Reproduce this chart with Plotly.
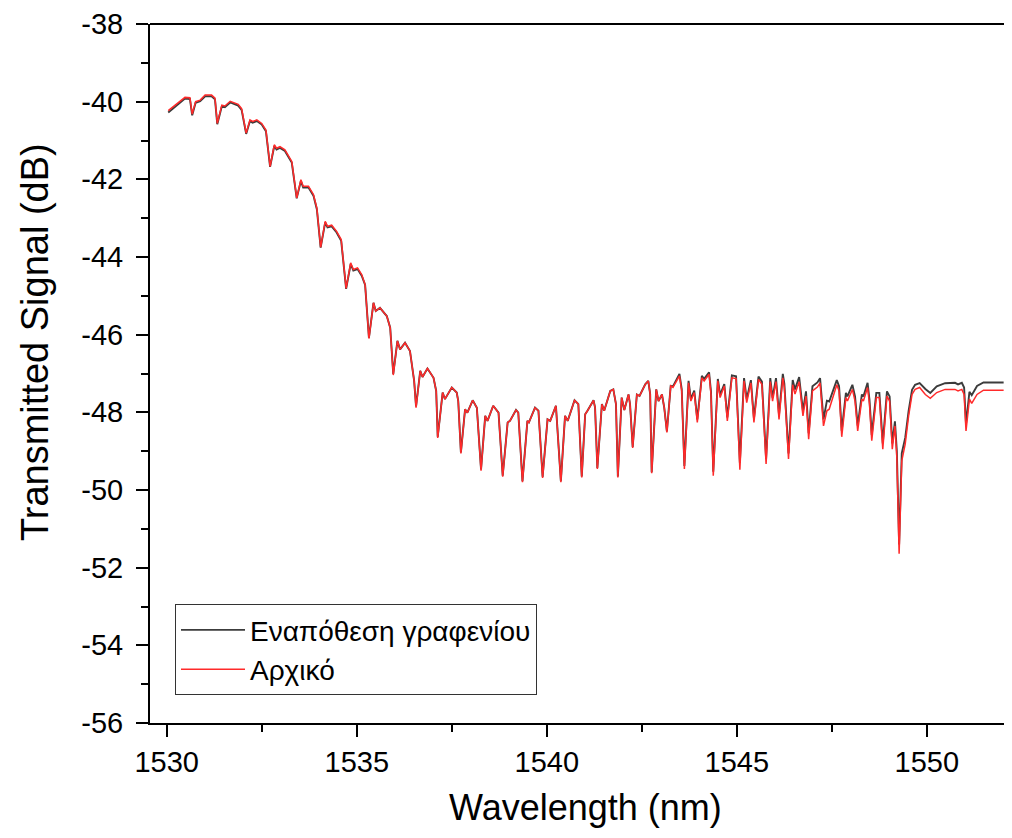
import plotly.graph_objects as go

wavelength = [
    1530.04, 1530.22, 1530.48, 1530.61, 1530.67, 1530.76, 1530.88, 1531.01, 1531.18, 1531.27,
    1531.33, 1531.45, 1531.53, 1531.67, 1531.88, 1531.97, 1532.09, 1532.19, 1532.26, 1532.37,
    1532.50, 1532.61, 1532.72, 1532.83, 1532.89, 1532.98, 1533.11, 1533.29, 1533.42, 1533.53,
    1533.59, 1533.73, 1533.86, 1533.95, 1534.05, 1534.17, 1534.23, 1534.34, 1534.47, 1534.59,
    1534.72, 1534.84, 1534.91, 1535.02, 1535.13, 1535.22, 1535.32, 1535.44, 1535.50, 1535.61,
    1535.79, 1535.88, 1535.96, 1536.07, 1536.14, 1536.27, 1536.40, 1536.51, 1536.56, 1536.67,
    1536.73, 1536.86, 1537.02, 1537.09, 1537.13, 1537.26, 1537.32, 1537.50, 1537.63, 1537.67,
    1537.74, 1537.85, 1537.91, 1538.05, 1538.16, 1538.27, 1538.38, 1538.44, 1538.59, 1538.73,
    1538.84, 1538.97, 1539.03, 1539.19, 1539.25, 1539.36, 1539.49, 1539.53, 1539.69, 1539.78,
    1539.89, 1540.02, 1540.09, 1540.24, 1540.37, 1540.48, 1540.55, 1540.73, 1540.83, 1540.92,
    1541.01, 1541.07, 1541.23, 1541.27, 1541.33, 1541.45, 1541.51, 1541.67, 1541.75, 1541.82,
    1541.87, 1541.97, 1542.04, 1542.15, 1542.19, 1542.26, 1542.37, 1542.44, 1542.59, 1542.67,
    1542.72, 1542.76, 1542.88, 1542.94, 1543.03, 1543.09, 1543.16, 1543.26, 1543.32, 1543.49,
    1543.55, 1543.62, 1543.73, 1543.79, 1543.88, 1543.96, 1544.08, 1544.14, 1544.27, 1544.32,
    1544.38, 1544.50, 1544.56, 1544.67, 1544.75, 1544.87, 1544.98, 1545.08, 1545.19, 1545.26,
    1545.37, 1545.45, 1545.57, 1545.66, 1545.77, 1545.88, 1545.94, 1546.03, 1546.11, 1546.21,
    1546.25, 1546.36, 1546.47, 1546.53, 1546.64, 1546.74, 1546.82, 1546.89, 1546.99, 1547.12,
    1547.19, 1547.28, 1547.37, 1547.43, 1547.63, 1547.69, 1547.76, 1547.87, 1547.91, 1548.04,
    1548.11, 1548.18, 1548.29, 1548.33, 1548.44, 1548.49, 1548.55, 1548.67, 1548.75, 1548.84,
    1548.95, 1549.02, 1549.09, 1549.16, 1549.21, 1549.27, 1549.34, 1549.43, 1549.52, 1549.61,
    1549.69, 1549.81, 1549.96, 1550.09, 1550.26, 1550.48, 1550.74, 1550.82, 1550.92, 1550.98,
    1551.03, 1551.12, 1551.18, 1551.32, 1551.49, 1552.02,
]

# "Αρχικό" (initial) spectrum, dB
signal_initial = [
    -40.23, -40.09, -39.89, -39.90, -40.32, -40.00, -39.96, -39.83, -39.83, -39.91,
    -40.56, -40.09, -40.11, -39.99, -40.07, -40.18, -40.81, -40.47, -40.51, -40.47,
    -40.56, -40.73, -41.67, -41.11, -41.20, -41.16, -41.24, -41.54, -42.48, -42.01,
    -42.18, -42.18, -42.39, -42.74, -43.75, -43.08, -43.21, -43.18, -43.34, -43.55,
    -44.81, -44.15, -44.32, -44.28, -44.45, -44.71, -46.10, -45.18, -45.39, -45.31,
    -45.52, -45.82, -47.04, -46.16, -46.38, -46.21, -46.42, -47.19, -47.88, -46.93,
    -47.09, -46.87, -47.11, -47.45, -48.66, -47.49, -47.66, -47.36, -47.49, -47.71,
    -49.06, -47.92, -48.01, -47.69, -47.88, -49.50, -48.09, -48.22, -47.83, -48.01,
    -49.66, -48.26, -48.22, -47.94, -48.01, -49.80, -48.22, -48.26, -47.88, -47.96,
    -49.69, -48.18, -48.22, -47.83, -49.80, -48.09, -48.22, -47.69, -47.79, -49.68,
    -48.05, -47.96, -47.69, -47.88, -49.46, -47.79, -47.96, -47.45, -47.41, -47.79,
    -49.68, -47.62, -47.94, -47.54, -47.79, -48.92, -47.54, -47.58, -47.28, -47.19,
    -47.53, -49.57, -47.41, -47.71, -47.54, -47.88, -48.52, -47.32, -47.36, -47.06,
    -47.45, -49.46, -47.24, -47.71, -47.49, -48.26, -47.11, -47.19, -47.02, -47.53,
    -49.63, -47.19, -47.62, -47.32, -48.22, -47.11, -47.13, -49.48, -47.19, -47.75,
    -47.24, -48.26, -47.15, -47.28, -49.33, -47.21, -47.71, -47.21, -48.18, -47.11,
    -47.36, -49.20, -47.29, -47.53, -47.21, -48.09, -47.58, -48.69, -47.45, -47.35,
    -47.24, -48.35, -47.96, -47.92, -47.29, -47.45, -48.63, -47.62, -47.71, -47.41,
    -47.71, -48.48, -47.66, -47.71, -47.36, -47.79, -48.73, -47.62, -47.62, -48.95,
    -47.58, -47.71, -48.95, -48.35, -49.16, -51.64, -49.25, -48.82, -48.09, -47.54,
    -47.41, -47.36, -47.54, -47.64, -47.49, -47.41, -47.41, -47.45, -47.41, -47.54,
    -48.48, -47.66, -47.77, -47.54, -47.43, -47.43,
]

# "Εναπόθεση γραφενίου" (graphene deposition) spectrum, dB
signal_graphene = [
    -40.28, -40.13, -39.92, -39.93, -40.35, -40.03, -39.99, -39.86, -39.86, -39.94,
    -40.58, -40.12, -40.14, -40.02, -40.10, -40.21, -40.83, -40.50, -40.54, -40.50,
    -40.59, -40.76, -41.68, -41.14, -41.23, -41.19, -41.27, -41.57, -42.49, -42.04,
    -42.21, -42.21, -42.42, -42.77, -43.76, -43.11, -43.24, -43.21, -43.37, -43.58,
    -44.82, -44.18, -44.35, -44.31, -44.48, -44.72, -46.08, -45.18, -45.39, -45.31,
    -45.52, -45.82, -47.01, -46.16, -46.38, -46.21, -46.42, -47.19, -47.85, -46.93,
    -47.09, -46.87, -47.11, -47.45, -48.63, -47.49, -47.66, -47.36, -47.49, -47.71,
    -49.03, -47.92, -48.01, -47.69, -47.88, -49.47, -48.09, -48.22, -47.83, -48.01,
    -49.63, -48.26, -48.22, -47.94, -48.01, -49.77, -48.22, -48.26, -47.88, -47.96,
    -49.66, -48.18, -48.22, -47.83, -49.77, -48.09, -48.22, -47.69, -47.79, -49.65,
    -48.05, -47.96, -47.69, -47.88, -49.43, -47.79, -47.96, -47.45, -47.41, -47.79,
    -49.65, -47.62, -47.94, -47.54, -47.79, -48.89, -47.54, -47.58, -47.28, -47.19,
    -47.53, -49.54, -47.41, -47.71, -47.54, -47.88, -48.49, -47.32, -47.33, -47.01,
    -47.40, -49.38, -47.19, -47.66, -47.44, -48.18, -47.06, -47.14, -46.97, -47.46,
    -49.53, -47.14, -47.55, -47.27, -48.13, -47.05, -47.07, -49.30, -47.12, -47.66,
    -47.17, -48.16, -47.08, -47.21, -49.20, -47.12, -47.62, -47.12, -48.06, -47.01,
    -47.26, -49.06, -47.17, -47.41, -47.09, -47.96, -47.46, -48.54, -47.33, -47.23,
    -47.12, -48.18, -47.70, -47.72, -47.17, -47.33, -48.48, -47.50, -47.59, -47.29,
    -47.59, -48.34, -47.54, -47.59, -47.24, -47.67, -48.58, -47.50, -47.50, -48.80,
    -47.46, -47.59, -48.80, -48.23, -49.00, -51.40, -49.05, -48.66, -47.96, -47.42,
    -47.29, -47.25, -47.40, -47.50, -47.33, -47.25, -47.24, -47.28, -47.24, -47.36,
    -48.30, -47.47, -47.56, -47.32, -47.23, -47.23,
]

x_ticks = [1530, 1535, 1540, 1545, 1550]
y_ticks = [-56, -54, -52, -50, -48, -46, -44, -42, -40, -38]

FONT = "Liberation Sans, Arial, sans-serif"

fig = go.Figure()
fig.add_trace(go.Scatter(
    x=wavelength, y=signal_graphene, mode="lines", name="Εναπόθεση γραφενίου",
    line=dict(color="#3c3c3c", width=1.9),
))
fig.add_trace(go.Scatter(
    x=wavelength, y=signal_initial, mode="lines", name="Αρχικό",
    line=dict(color="#ff2a2a", width=1.5),
))

axis_common = dict(
    showgrid=False, zeroline=False, showline=True, linecolor="black", linewidth=2,
    ticks="outside", ticklen=12, tickwidth=2, tickcolor="black",
    tickfont=dict(family=FONT, size=29, color="black"),
    ticklabeloverflow="allow",
)

# page body has an 8px margin, so the figure is shifted by (8, 8)
fig.update_layout(
    width=1004, height=830,
    margin=dict(l=142, r=0, t=14, b=115),
    paper_bgcolor="white", plot_bgcolor="white",
    font=dict(family=FONT, color="black"),
    xaxis=dict(
        range=[1529.56, 1552.24], tickvals=x_ticks, ticktext=[str(v) for v in x_ticks],
        minor=dict(dtick=2.5, tick0=1530, ticks="outside", ticklen=7, tickwidth=2, tickcolor="black"),
        **axis_common,
    ),
    yaxis=dict(
        range=[-56, -38], tickvals=y_ticks, ticktext=[str(v) for v in y_ticks],
        minor=dict(dtick=1, tick0=-56, ticks="outside", ticklen=7, tickwidth=2, tickcolor="black"),
        ticklabelstandoff=7,
        **axis_common,
    ),
    legend=dict(
        x=0.029, y=0.17, xanchor="left", yanchor="top",
        bordercolor="#333333", borderwidth=1, bgcolor="white",
        font=dict(family=FONT, size=28, color="black"),
        itemwidth=64, tracegroupgap=0, entrywidth=385,
    ),
    shapes=[dict(type="line", xref="paper", yref="paper", x0=0, x1=1, y0=1, y1=1,
                 line=dict(color="black", width=2))],
    annotations=[
        dict(text="Wavelength (nm)", xref="paper", yref="paper", x=0.505, y=-0.121,
             showarrow=False, font=dict(family=FONT, size=36, color="black"),
             xanchor="center", yanchor="middle"),
        dict(text="Transmitted Signal (dB)", xref="paper", yref="paper", x=-0.1334, y=0.545,
             showarrow=False, textangle=-90, font=dict(family=FONT, size=38, color="black"),
             xanchor="center", yanchor="middle"),
    ],
)

fig.write_html("out.html")
